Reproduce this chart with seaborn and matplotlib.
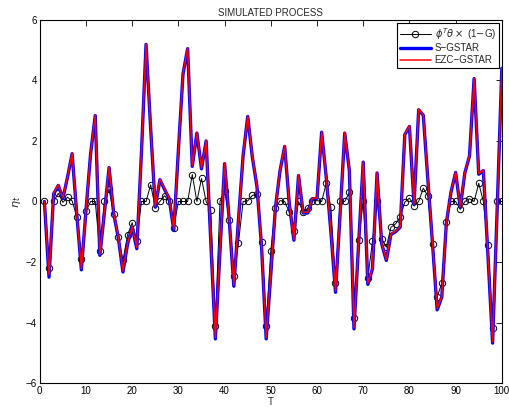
import matplotlib
matplotlib.use("Agg")
import matplotlib.pyplot as plt
import seaborn as sns
import pandas as pd
import numpy as np

T = list(range(1, 101))

phi_theta = [0, -2.2, 0, 0.27, -0.03, 0.14, 0.02, -0.5, -1.9, -0.33,
             0, 0, -1.62, 0, 0.4, -0.43, -1.18, -1.95, -1.1, -0.7,
             -1.29, 0, 0, 0.55, -0.2, 0, 0.19, 0, -0.86, 0,
             0, 0, 0.89, 0, 0.76, 0, -0.28, -4.1, 0, 0.36,
             -0.6, -2.45, -1.37, 0, 0.02, 0.2, 0.24, -1.33, -4.1, -1.62,
             -0.22, 0.03, 0, -0.35, -0.96, 0, -0.35, -0.22, 0.03, 0.03,
             0, 0.6, -0.19, -2.7, 0, 0, 0.3, -3.85, -1.27, 0,
             -2.52, -1.32, 0, -1.23, -1.51, -0.85, -0.74, -0.52, -0.02, 0.11,
             -0.15, 0, 0.44, 0.18, -1.4, -3.16, -2.7, -0.68, 0, 0,
             -0.26, 0, 0.09, 0, 0.6, 0, -1.45, -4.19, 0, 0]

s_gstar = [0, -2.5, 0.25, 0.53, 0.1, 0.8, 1.58, -0.4, -2.26, -0.3,
           1.58, 2.84, -1.78, -0.35, 1.12, -0.4, -1.2, -2.33, -1.4, -0.85,
           -1.56, 1.6, 5.19, 2.4, -0.19, 0.72, 0.4, 0.1, -0.95, 1.7,
           4.22, 5.05, 1.16, 2.26, 1.08, 2.0, -1.3, -4.54, -1.65, 1.25,
           -0.6, -2.8, -0.6, 1.5, 2.81, 1.47, 0.5, -1.5, -4.54, -2.4,
           -0.2, 1.02, 1.82, -0.07, -1.28, 0.86, -0.38, -0.38, 0.09, 0.1,
           2.29, 0.8, -1.0, -3.0, -0.4, 2.26, 1.02, -4.21, -1.4, 1.3,
           -2.74, -2.23, 0.94, -1.4, -1.95, -1.09, -1.0, -0.85, 2.21, 2.48,
           -0.1, 3.03, 2.85, 0.7, -1.4, -3.58, -3.16, -0.7, 0.31, 0.96,
           -0.2, 0.95, 1.5, 4.06, 0.9, 1.02, -1.8, -4.68, -0.2, 4.4]

ezc_gstar = [0, -2.42, 0.28, 0.55, 0.12, 0.82, 1.6, -0.38, -2.22, -0.28,
             1.6, 2.86, -1.75, -0.33, 1.14, -0.38, -1.18, -2.3, -1.38, -0.83,
             -1.53, 1.62, 5.21, 2.42, -0.17, 0.74, 0.42, 0.12, -0.92, 1.72,
             4.24, 5.07, 1.18, 2.28, 1.1, 2.02, -1.28, -4.5, -1.62, 1.27,
             -0.58, -2.76, -0.58, 1.52, 2.83, 1.49, 0.52, -1.48, -4.5, -2.37,
             -0.18, 1.04, 1.84, -0.05, -1.26, 0.88, -0.36, -0.36, 0.11, 0.12,
             2.31, 0.82, -0.98, -2.96, -0.38, 2.28, 1.04, -4.17, -1.38, 1.32,
             -2.7, -2.2, 0.96, -1.38, -1.92, -1.07, -0.98, -0.83, 2.23, 2.5,
             -0.08, 3.05, 2.87, 0.72, -1.38, -3.54, -3.13, -0.68, 0.33, 0.98,
             -0.18, 0.97, 1.52, 4.08, 0.92, 1.04, -1.78, -4.64, -0.18, 4.42]

xticks = list(range(0, 101, 10))
yticks = [-6, -4, -2, 0, 2, 4, 6]

sns.set_style("white")
plt.rcParams['font.family'] = ['Liberation Sans', 'DejaVu Sans']
plt.rcParams['mathtext.fontset'] = 'dejavusans'

df = pd.DataFrame({"T": T, "phi": phi_theta, "s": s_gstar, "e": ezc_gstar})

fig = plt.figure(figsize=(5.1, 4.15), dpi=100)
ax = fig.add_axes([0.078, 0.077, 0.906, 0.875])

sns.lineplot(data=df, x="T", y="phi", ax=ax, color="black", linewidth=0.7,
             marker="o", markersize=4.6, markerfacecolor="none",
             markeredgecolor="black", markeredgewidth=0.7,
             label=r"$\phi^T\theta\times$ (1$-$G)")
sns.lineplot(data=df, x="T", y="s", ax=ax, color="#0000ff", linewidth=2.4,
             label="S\u2212GSTAR")
sns.lineplot(data=df, x="T", y="e", ax=ax, color="#ff0000", linewidth=1.1,
             label="EZC\u2212GSTAR")

ax.set_xlim(0, 100)
ax.set_ylim(-6, 6)
ax.set_xticks(xticks)
ax.set_yticks(yticks)
ax.set_yticklabels([f"\u2212{abs(v)}" if v < 0 else str(v) for v in yticks])
ax.tick_params(direction="in", length=4, width=0.6, labelsize=7,
               top=True, right=True, pad=2, colors="black")
for sp in ax.spines.values():
    sp.set_visible(True)
    sp.set_color("black")
    sp.set_linewidth(0.8)

ax.set_title("SIMULATED PROCESS", fontsize=7, pad=3)
ax.set_xlabel("T", fontsize=7, labelpad=1)
ax.set_ylabel(r"$\eta_t$", fontsize=8, labelpad=2)

leg = ax.legend(loc="upper right", fontsize=7, frameon=True, fancybox=False,
                edgecolor="black", framealpha=1, borderaxespad=0.3,
                handlelength=3.2, borderpad=0.3, labelspacing=0.2,
                handletextpad=0.4)
leg.get_frame().set_linewidth(0.8)

fig.savefig("out.png", dpi=100)
